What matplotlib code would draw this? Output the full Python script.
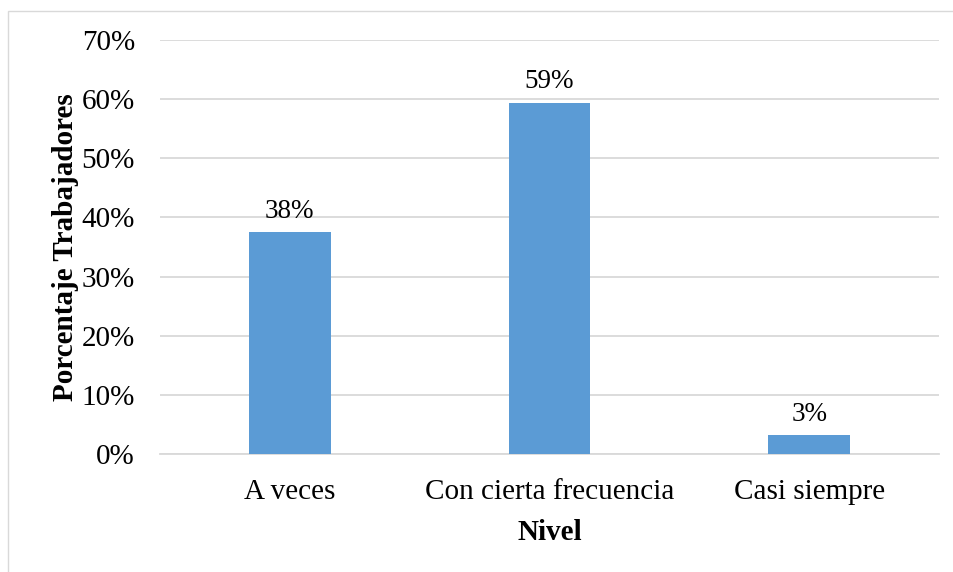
import matplotlib
matplotlib.use("Agg")
import matplotlib.pyplot as plt
from matplotlib.patches import Rectangle

categories = ["A veces", "Con cierta frecuencia", "Casi siempre"]
values = [37.5, 59.4, 3.2]
labels = ["38%", "59%", "3%"]
yticks = [0, 10, 20, 30, 40, 50, 60, 70]

plt.rcParams['font.family'] = ['Liberation Serif', 'DejaVu Serif']

fig = plt.figure(figsize=(9.54, 5.72), dpi=100)
ax = fig.add_axes([160/954, 1-454/572, (939-160)/954, (454-40)/572])

x = list(range(len(categories)))
ax.bar(x, values, width=0.315, color='#5B9BD5', zorder=3)
for xi, v, lab in zip(x, values, labels):
    ax.annotate(lab, (xi, v), xytext=(0, 6), textcoords='offset points',
                ha='center', va='bottom', fontsize=19.5)

ax.set_xlim(-0.5, 2.5)
ax.set_ylim(0, 70)
ax.set_yticks(yticks)
ax.set_yticklabels([f"{t}%" for t in yticks], fontsize=21)
ax.set_xticks(x)
ax.set_xticklabels(categories, fontsize=21)
ax.tick_params(axis='both', length=0)
ax.tick_params(axis='y', pad=18)
ax.tick_params(axis='x', pad=18)
ax.grid(axis='y', color='#D9D9D9', linewidth=1.3, zorder=0)
for s in ['top', 'right', 'left']:
    ax.spines[s].set_visible(False)
ax.spines['bottom'].set_color('#D9D9D9')
ax.spines['bottom'].set_linewidth(1.3)

ax.set_xlabel("Nivel", fontsize=21, fontweight='bold', labelpad=10)
ax.set_ylabel("Porcentaje Trabajadores", fontsize=21, fontweight='bold', labelpad=2)

fig.patches.append(Rectangle((8/954, -0.1), 1.2, 1-11/572+0.1, transform=fig.transFigure,
                             fill=False, edgecolor='#D9D9D9', linewidth=1))

fig.savefig("out.png", dpi=100)
